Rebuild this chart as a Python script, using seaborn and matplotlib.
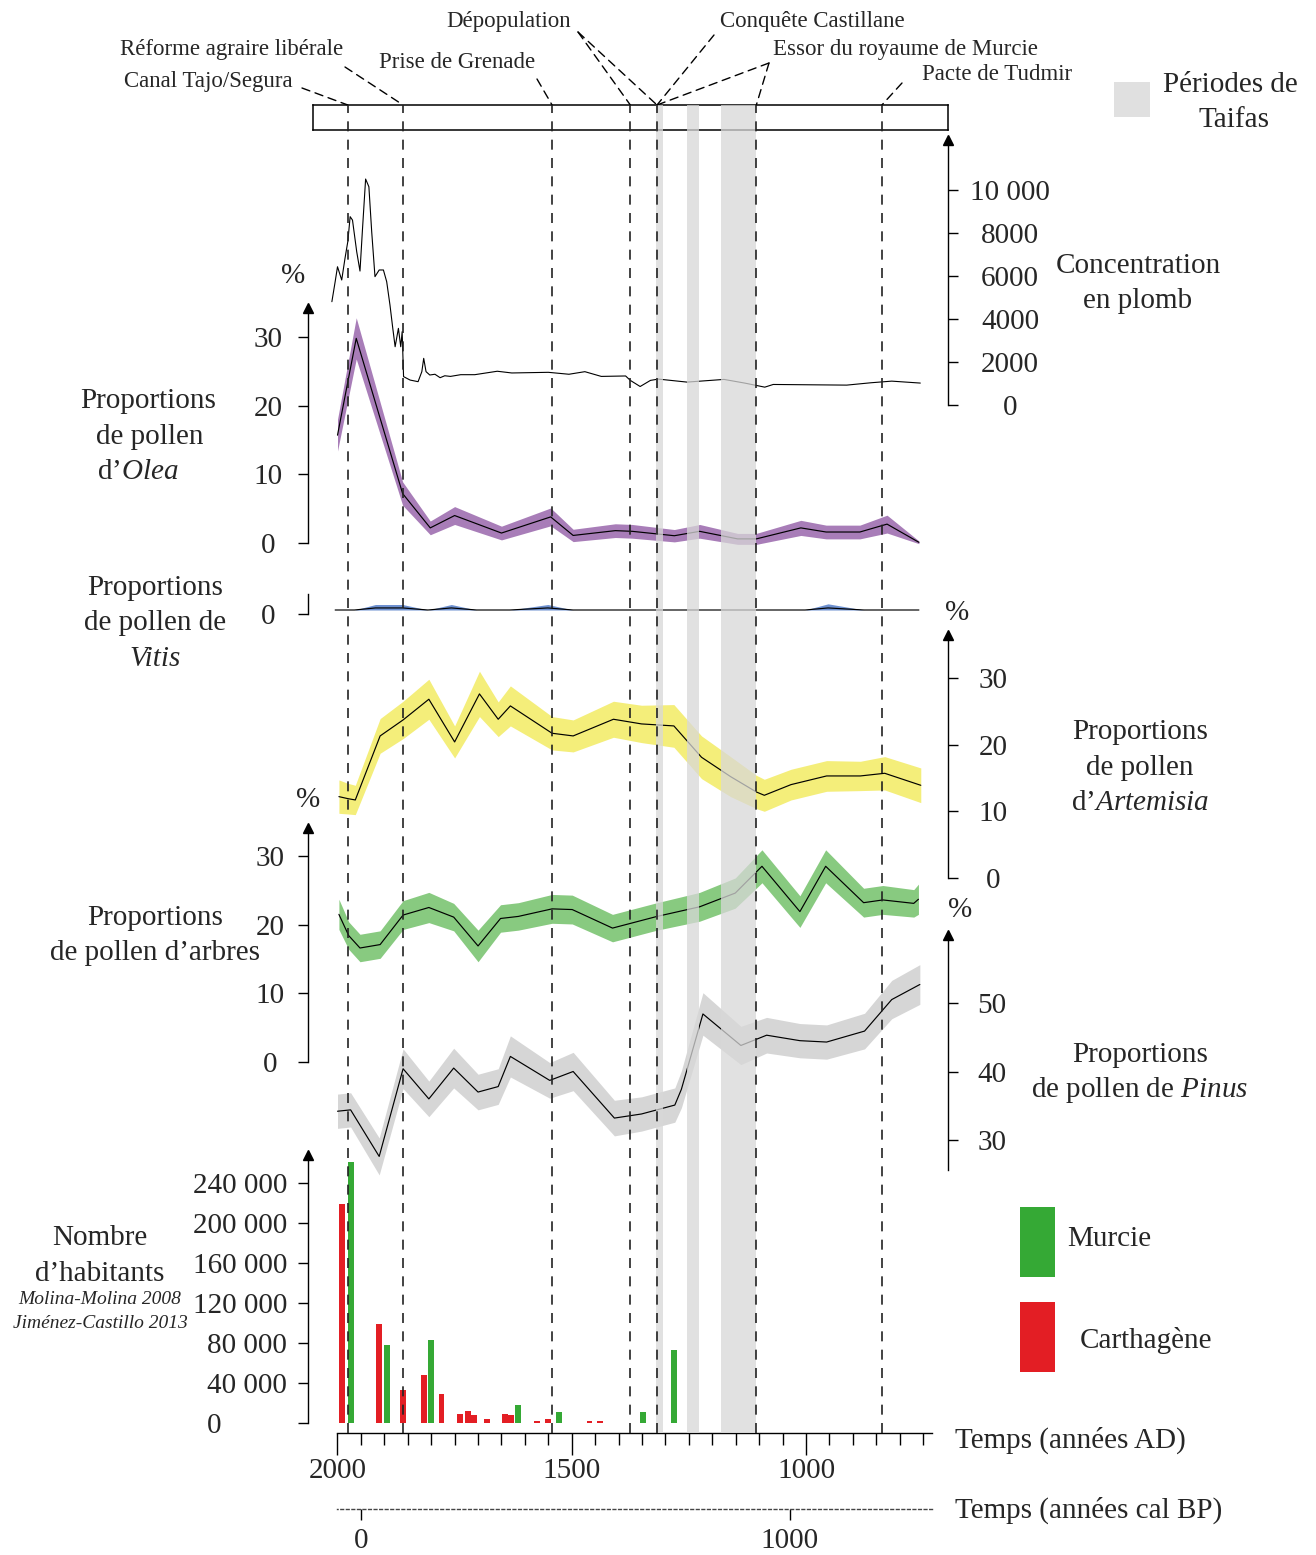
import matplotlib
matplotlib.use('Agg')
import numpy as np
import pandas as pd
import matplotlib.pyplot as plt
import seaborn as sns
from matplotlib.patches import Rectangle

# ---------------- data ----------------
event_years = [1978, 1860, 1542, 1375, 1318, 1106, 838]
taifa_periods = [(1320, 1305), (1254, 1229), (1181, 1107)]

lead_year = [2012, 2005, 2000, 1991, 1984, 1978, 1973, 1968, 1959, 1952, 1947, 1940, 1933,
             1927, 1920, 1911, 1902, 1895, 1888, 1882, 1877, 1870, 1865, 1862, 1859, 1845,
             1828, 1820, 1816, 1811, 1803, 1792, 1781, 1771, 1759, 1737, 1707, 1659, 1628,
             1550, 1506, 1472, 1437, 1385, 1375, 1354, 1332, 1315, 1254, 1175, 1131, 1088,
             1070, 992, 913, 861, 817, 756]
lead_val = [4805, 5735, 6430, 5814, 6822, 7600, 8760, 8600, 7130, 6230, 8060, 10510, 10150,
            8060, 5970, 6280, 6280, 5735, 4650, 3565, 2710, 3565, 2710, 3410, 1320, 1160,
            1085, 1550, 2170, 1550, 1395, 1430, 1270, 1360, 1330, 1410, 1410, 1570, 1490,
            1520, 1430, 1550, 1330, 1350, 1145, 860, 1145, 1205, 1065, 1190, 1020, 830,
            955, 940, 925, 1035, 1110, 1020]

olea_year = [2000, 1960, 1861, 1802, 1750, 1650, 1545, 1497, 1407, 1371, 1281, 1227, 1146,
             1106, 1011, 957, 885, 827, 759]
olea_val = [15.7, 29.8, 7.2, 2.2, 4.0, 1.45, 3.8, 1.1, 1.8, 1.7, 1.06, 1.7, 0.6, 0.6, 2.2,
            1.6, 1.6, 2.75, 0.1]
olea_err = [2.3, 3.0, 1.7, 1.0, 1.3, 1.0, 1.3, 0.9, 1.0, 1.0, 0.9, 1.0, 0.8, 0.8, 1.1, 1.0,
            1.0, 1.3, 0.2]

vitis_year = [2005, 1964, 1919, 1861, 1807, 1757, 1703, 1632, 1551, 1497, 1002, 953, 876, 759]
vitis_val = [0, 0, 0.3, 0.3, 0, 0.3, 0, 0, 0.3, 0, 0, 0.3, 0, 0]
vitis_err = [0, 0, 0.5, 0.5, 0, 0.5, 0, 0, 0.5, 0, 0, 0.6, 0, 0]

art_year = [1997, 1978, 1962, 1909, 1860, 1805, 1750, 1697, 1657, 1631, 1542, 1497, 1411,
            1351, 1282, 1223, 1161, 1106, 1089, 1032, 956, 884, 832, 755]
art_val = [12.2, 11.9, 11.7, 21.3, 23.7, 26.8, 20.4, 27.6, 23.8, 25.8, 21.7, 21.3, 23.8,
           23.1, 22.8, 18.1, 15.2, 12.9, 12.4, 14.0, 15.3, 15.3, 15.7, 13.9]
art_err = [2.5, 2.3, 2.2, 2.6, 2.8, 3.0, 2.4, 3.4, 2.6, 3.0, 2.5, 2.4, 2.7, 2.8, 3.2, 3.2,
           3.0, 2.5, 2.4, 2.3, 2.3, 2.2, 2.5, 2.6]

tree_year = [1997, 1976, 1952, 1909, 1860, 1805, 1752, 1700, 1652, 1614, 1542, 1499, 1413,
             1318, 1227, 1151, 1094, 1013, 958, 877, 836, 770, 760]
tree_val = [21.5, 18.4, 16.6, 17.1, 21.4, 22.5, 21.1, 16.9, 20.9, 21.2, 22.3, 22.2, 19.5,
            21.2, 22.6, 24.6, 28.5, 21.9, 28.5, 23.2, 23.6, 23.1, 23.7]
tree_err = [2.2, 2.0, 2.0, 2.0, 2.1, 2.2, 2.0, 2.3, 2.0, 2.0, 2.1, 2.1, 2.0, 2.0, 2.1, 2.2,
            2.4, 2.3, 2.4, 2.1, 2.1, 2.0, 2.2]

pin_year = [2000, 1972, 1911, 1860, 1805, 1752, 1700, 1657, 1631, 1547, 1497, 1409, 1351,
            1280, 1266, 1220, 1139, 1084, 1013, 956, 875, 817, 757]
pin_val = [34.2, 34.4, 27.6, 40.4, 36.0, 40.5, 37.0, 37.8, 42.2, 38.7, 40.0, 33.2, 33.8,
           35.1, 37.4, 48.4, 43.8, 45.3, 44.5, 44.3, 45.9, 50.5, 52.7]
pin_err = [2.5, 2.5, 2.7, 2.9, 2.6, 2.9, 2.6, 2.6, 3.0, 2.6, 2.8, 2.6, 2.5, 2.5, 2.7, 3.1,
           2.8, 2.6, 2.5, 2.5, 2.6, 2.8, 2.9]

carth_year = [1990, 1912, 1860, 1815, 1778, 1739, 1722, 1709, 1681, 1643, 1629, 1574, 1551,
              1462, 1439]
carth_pop = [218700, 98800, 32700, 47700, 28700, 9300, 11700, 8300, 4300, 9000, 8300, 2000,
             3700, 2000, 2000]
murcie_year = [1971, 1895, 1800, 1615, 1528, 1348, 1281]
murcie_pop = [261400, 78100, 83500, 18400, 10700, 10700, 72800]

# ---------------- style ----------------
sns.set_theme(style='white')
plt.rcParams['font.family'] = ['Liberation Serif', 'DejaVu Serif']
plt.rcParams['mathtext.fontset'] = 'custom'
plt.rcParams['mathtext.rm'] = 'Liberation Serif'
plt.rcParams['mathtext.it'] = 'Liberation Serif:italic'

W, H = 1316, 1555
fig = plt.figure(figsize=(W / 100, H / 100), dpi=100)

PX_YR = 0.4685
X2000 = 337.5


def yr(px):
    return 2000 - (px - X2000) / PX_YR


XL, XR = 308, 948
XLIM = (yr(XL), yr(XR))
TOP, BOT = 100, 1440
PT = 72 / 100  # points per pixel
TICK = 10


def fx(px):
    return px / W


def fy(py):
    return 1 - py / H


def put(x, y, s, size=21, ha='center', **kw):
    fig.text(fx(x), fy(y), s, ha=ha, va='center', fontsize=size, **kw)


def panel():
    ax = fig.add_axes([fx(XL), fy(BOT), (XR - XL) / W, (BOT - TOP) / H])
    ax.patch.set_alpha(0)
    for sp in ax.spines.values():
        sp.set_visible(False)
    return ax


def finish(ax, v0, p0, s):
    # value v0 sits at pixel row p0, s pixels per unit
    ax.set_xlim(*XLIM)
    ax.set_ylim(v0 + (p0 - BOT) / s, v0 + (p0 - TOP) / s)
    ax.set_xlabel('')
    ax.set_ylabel('')
    ax.set_xticks([])


def yaxis(ax, side, lo, hi, ticks, labels, label_px, ha='center', arrow=True, size=21):
    sp = ax.spines[side]
    sp.set_visible(True)
    sp.set_bounds(lo, hi)
    sp.set_linewidth(1.0)
    sp.set_color('black')
    ax.yaxis.set_ticks_position(side)
    ax.set_yticks(ticks)
    ax.set_yticklabels(labels)
    edge = XL if side == 'left' else XR
    pad = (abs(edge - label_px) - TICK) * PT
    ax.tick_params(axis='y', which='both', direction='out', length=TICK * PT, width=1,
                   color='black', labelsize=size, pad=pad,
                   left=(side == 'left'), right=(side == 'right'),
                   labelleft=(side == 'left'), labelright=(side == 'right'))
    for lab in ax.get_yticklabels():
        lab.set_ha(ha)
    if arrow:
        xs = 0 if side == 'left' else 1
        ax.plot([xs], [hi], marker='^', ms=7, color='black',
                transform=ax.get_yaxis_transform(), clip_on=False)


def band(ax, years, val, err, color, lw=0.85, floor=None):
    val = np.array(val, float)
    err = np.array(err, float)
    lo = val - err
    if floor is not None:
        lo = np.maximum(lo, floor)
    ax.fill_between(years, lo, val + err, color=color, lw=0)
    df = pd.DataFrame({'year': years, 'val': val})
    sns.lineplot(data=df, x='year', y='val', ax=ax, color='black', lw=lw)


# ---------------- lead ----------------
ax_pb = panel()
sns.lineplot(data=pd.DataFrame({'year': lead_year, 'val': lead_val}), x='year', y='val',
             ax=ax_pb, color='black', lw=0.8)
finish(ax_pb, 0, 405, 0.0215)
yaxis(ax_pb, 'right', 0, (405 - 140) / 0.0215, [0, 2000, 4000, 6000, 8000, 10000],
      ['0', '2000', '4000', '6000', '8000', '10 000'], 1010)

# ---------------- Olea ----------------
ax_ol = panel()
band(ax_ol, olea_year, olea_val, olea_err, '#a87db8')
finish(ax_ol, 0, 543, 6.867)
yaxis(ax_ol, 'left', 0, (543 - 308) / 6.867, [0, 10, 20, 30], ['0', '10', '20', '30'], 268)

# ---------------- Vitis ----------------
ax_vi = panel()
band(ax_vi, vitis_year, vitis_val, vitis_err, '#6d90d0', floor=0)
finish(ax_vi, 0, 610, 6.867)
yaxis(ax_vi, 'left', -0.6, 2.4, [-0.6], ['0'], 268, arrow=False)

# ---------------- Artemisia ----------------
ax_ar = panel()
band(ax_ar, art_year, art_val, art_err, '#f4ee7a')
finish(ax_ar, 0, 878, 6.67)
yaxis(ax_ar, 'right', 0, (878 - 635) / 6.67, [0, 10, 20, 30], ['0', '10', '20', '30'], 993)

# ---------------- trees ----------------
ax_tr = panel()
band(ax_tr, tree_year, tree_val, tree_err, '#88ca80')
finish(ax_tr, 0, 1062, 6.867)
yaxis(ax_tr, 'left', 0, (1062 - 828) / 6.867, [0, 10, 20, 30], ['0', '10', '20', '30'], 270)

# ---------------- Pinus ----------------
ax_pi = panel()
band(ax_pi, pin_year, pin_val, pin_err, '#d6d6d6')
finish(ax_pi, 50, 1003, 6.85)
yaxis(ax_pi, 'right', 50 - (1170 - 1003) / 6.85, 50 + (1003 - 935) / 6.85, [30, 40, 50],
      ['30', '40', '50'], 992)

# ---------------- inhabitants ----------------
ax_ba = panel()
ax_ba.bar(carth_year, carth_pop, width=12.5, color='#e31e24', lw=0)
ax_ba.bar(murcie_year, murcie_pop, width=12.5, color='#35a935', lw=0)
finish(ax_ba, 0, 1423, 0.001)
pop_ticks = [0, 40000, 80000, 120000, 160000, 200000, 240000]
pop_labels = ['0' + ' ' * 9] + [f'{t // 1000} 000' for t in pop_ticks[1:]]
yaxis(ax_ba, 'left', 0, 268000, pop_ticks, pop_labels, 287, ha='right')

# ---------------- time axes ----------------
ax_t = fig.add_axes([fx(XL), fy(1433), (XR - XL) / W, 1 / H])
ax_t.patch.set_alpha(0)
for k in ['top', 'left', 'right']:
    ax_t.spines[k].set_visible(False)
ax_t.set_xlim(*XLIM)
ax_t.set_yticks([])
ax_t.spines['bottom'].set_bounds(yr(932), 2000)
ax_t.spines['bottom'].set_color('black')
ax_t.spines['bottom'].set_linewidth(1)
ax_t.set_xticks([2000, 1500, 1000])
ax_t.set_xticklabels(['2000', '1500', '1000'])
ax_t.set_xticks([y for y in range(750, 2000, 50) if y % 500], minor=True)
ax_t.tick_params(axis='x', which='major', direction='out', length=22 * PT, width=1,
                 color='black', labelsize=21, pad=2, bottom=True)
ax_t.tick_params(axis='x', which='minor', direction='out', length=12 * PT, width=1,
                 color='black', bottom=True)

ax_bp = fig.add_axes([fx(XL), fy(1509), (XR - XL) / W, 1 / H])
ax_bp.patch.set_alpha(0)
for k in ['top', 'left', 'right']:
    ax_bp.spines[k].set_visible(False)
ax_bp.set_xlim(*XLIM)
ax_bp.set_yticks([])
ax_bp.spines['bottom'].set_bounds(yr(932), 2000)
ax_bp.spines['bottom'].set_linestyle((0, (2, 2)))
ax_bp.spines['bottom'].set_color('#444444')
ax_bp.spines['bottom'].set_linewidth(1)
ax_bp.set_xticks([1950, 1035])
ax_bp.set_xticklabels(['0', '1000'])
ax_bp.tick_params(axis='x', direction='out', length=11 * PT, width=1, color='black',
                  labelsize=21, pad=6, bottom=True)

# ---------------- event box ----------------
ax_box = fig.add_axes([fx(313), fy(130), (XR - 313) / W, 25 / H])
ax_box.set_xlim(yr(313), yr(XR))
ax_box.set_ylim(0, 1)
ax_box.set_xticks([])
ax_box.set_yticks([])
for sp in ax_box.spines.values():
    sp.set_visible(True)
    sp.set_color('black')
    sp.set_linewidth(1.1)
ax_box.patch.set_alpha(0)

# ---------------- Taifa periods + event lines ----------------
ov = fig.add_axes([fx(XL), fy(1433), (XR - XL) / W, (1433 - 105) / H])
ov.set_xlim(*XLIM)
ov.set_ylim(0, 1)
ov.axis('off')
for a, b in taifa_periods:
    ov.axvspan(a, b, color='#d8d8d8', alpha=0.75, lw=0)
for y in event_years:
    ov.axvline(y, color='#222222', lw=1.2, ls=(0, (6, 5)))

# labels and leader lines of the events
event_text = [
    ('Canal Tajo/Segura', 208, 81, [(302, 88, 1978)]),
    ('Réforme agraire libérale', 232, 49, [(345, 67, 1860)]),
    ('Prise de Grenade', 457, 63, [(537, 79, 1542)]),
    ('Dépopulation', 509, 21, [(578, 32, 1375), (578, 32, 1318)]),
    ('Conquête Castillane', 812, 21, [(714, 35, 1318)]),
    ('Essor du royaume de Murcie', 905, 49, [(769, 63, 1318), (769, 63, 1106)]),
    ('Pacte de Tudmir', 997, 74, [(902, 83, 838)]),
]
for name, tx, ty, links in event_text:
    put(tx, ty, name, size=16.5)
    for lx, ly, y in links:
        ax_box.annotate('', xy=(y, 1), xycoords=('data', 'axes fraction'),
                        xytext=(lx, H - ly), textcoords='figure pixels',
                        arrowprops=dict(arrowstyle='-', ls=(0, (6, 4)), color='black',
                                        lw=1.0, shrinkA=0, shrinkB=0))

# ---------------- texts ----------------
put(293, 276, '%')
put(148, 401, 'Proportions')
put(150, 437, 'de pollen')
put(138, 472, r'd’$\mathit{Olea}$')
put(155, 588, 'Proportions')
put(155, 623, 'de pollen de')
put(155, 659, 'Vitis', style='italic')
put(308, 800, '%')
put(155, 918, 'Proportions')
put(155, 953, 'de pollen d’arbres')
put(100, 1238, 'Nombre')
put(100, 1274, 'd’habitants')
put(100, 1300, 'Molina-Molina 2008', size=14, style='italic')
put(100, 1324, 'Jiménez-Castillo 2013', size=14, style='italic')

put(1138, 266, 'Concentration')
put(1138, 301, 'en plomb')
put(957, 613, '%')
put(1140, 732, 'Proportions')
put(1140, 768, 'de pollen')
put(1140, 803, r'd’$\mathit{Artemisia}$')
put(960, 910, '%')
put(1140, 1055, 'Proportions')
put(1140, 1090, r'de pollen de $\mathit{Pinus}$')
put(955, 1440, 'Temps (années AD)', ha='left')
put(955, 1510, 'Temps (années cal BP)', ha='left')

# legends
fig.add_artist(Rectangle((fx(1114), fy(117)), 36 / W, 35 / H, transform=fig.transFigure,
                         color='#e0e0e0', lw=0))
put(1230, 85, 'Périodes de')
put(1234, 120, 'Taifas')
fig.add_artist(Rectangle((fx(1020), fy(1277)), 35 / W, 70 / H, transform=fig.transFigure,
                         color='#35a935', lw=0))
fig.add_artist(Rectangle((fx(1020), fy(1372)), 35 / W, 70 / H, transform=fig.transFigure,
                         color='#e31e24', lw=0))
put(1067, 1239, 'Murcie', ha='left')
put(1080, 1340, 'Carthagène', ha='left')

fig.savefig('out.png', dpi=100)
